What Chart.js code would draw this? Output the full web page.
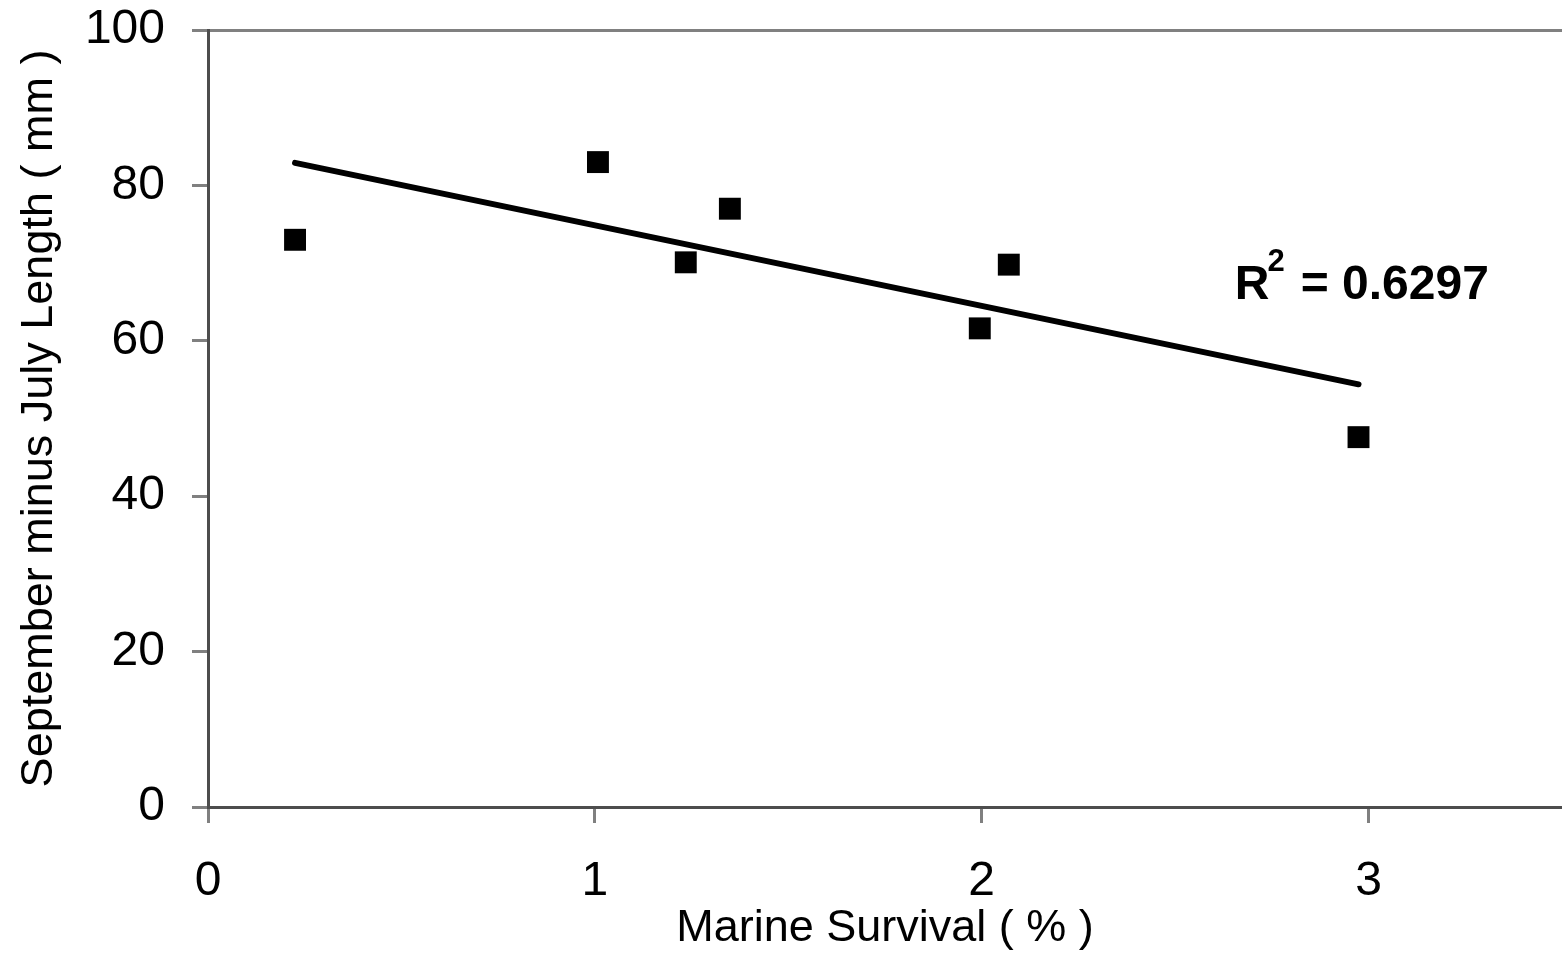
<!DOCTYPE html>
<html>
<head>
<meta charset="utf-8">
<script src="https://cdn.jsdelivr.net/npm/chart.js@4.4.0/dist/chart.umd.min.js"></script>
<style>
  html, body { margin: 0; padding: 0; background: #fff; overflow: hidden; }
  #wrap { width: 1562px; height: 956px; position: relative; }
  canvas { display: block; }
</style>
</head>
<body>
<div id="wrap"><canvas id="chart"></canvas></div>
<script>
// values
const survival = [0.225, 1.008, 1.235, 1.349, 1.995, 2.07, 2.974];
const lengthDiff = [73.0, 83.0, 70.1, 77.0, 61.6, 69.8, 47.6];
const trendX = [0.225, 2.974];
const trendY = [82.9, 54.4];
const xTicks = [0, 1, 2, 3];
const yTicks = [0, 20, 40, 60, 80, 100];
const r2Text = "0.6297";

const FONT = "'Liberation Sans', Arial, sans-serif";

// R² label next to the end of the trend line
const r2Label = {
  id: "r2Label",
  afterDatasetsDraw(chart) {
    const ctx = chart.ctx;
    const x = chart.scales.x.getPixelForValue(2.654);
    const y = chart.scales.y.getPixelForValue(65.4);
    ctx.save();
    ctx.fillStyle = "#000";
    ctx.textBaseline = "alphabetic";
    ctx.font = "bold 48px " + FONT;
    ctx.fillText("R", x, y);
    const w = ctx.measureText("R").width;
    ctx.font = "bold 31px " + FONT;
    ctx.fillText("2", x + w - 2, y - 28);
    ctx.font = "bold 48px " + FONT;
    ctx.fillText(" = " + r2Text, x + w + 18, y);
    ctx.restore();
  }
};

new Chart(document.getElementById("chart"), {
  type: "scatter",
  data: {
    datasets: [
      {
        data: survival.map((v, i) => ({ x: v, y: lengthDiff[i] })),
        pointStyle: "rect",
        pointRadius: 15.5,
        backgroundColor: "#000",
        borderColor: "#000",
        borderWidth: 0
      },
      {
        type: "line",
        data: trendX.map((v, i) => ({ x: v, y: trendY[i] })),
        borderColor: "#000",
        borderWidth: 6,
        borderCapStyle: "round",
        pointRadius: 0,
        fill: false
      }
    ]
  },
  options: {
    responsive: true,
    maintainAspectRatio: false,
    animation: false,
    layout: { autoPadding: false, padding: { top: 30, right: 0, left: 0, bottom: 0 } },
    plugins: { legend: { display: false }, tooltip: { enabled: false } },
    scales: {
      x: {
        type: "linear",
        min: 0,
        max: 3.5,
        afterBuildTicks: axis => { axis.ticks = xTicks.map(v => ({ value: v })); },
        afterFit: axis => {
          axis.height = 149;
          axis.paddingLeft = 0;
          axis.paddingRight = 0;
        },
        border: { color: "#4d4d4d", width: 3 },
        grid: { drawOnChartArea: false, tickLength: 16, tickColor: "#808080", tickWidth: 3 },
        ticks: { color: "#000", font: { family: FONT, size: 48 }, padding: 30, maxRotation: 0 },
        title: {
          display: true,
          text: "Marine Survival ( % )",
          color: "#000",
          font: { family: FONT, size: 45 },
          padding: { top: 0, bottom: 0 }
        }
      },
      y: {
        min: 0,
        max: 100,
        afterBuildTicks: axis => { axis.ticks = yTicks.map(v => ({ value: v })); },
        afterFit: axis => {
          axis.width = 208;
          axis.paddingTop = 0;
          axis.paddingBottom = 0;
        },
        border: { color: "#4d4d4d", width: 3 },
        grid: {
          color: c => (c.tick && c.tick.value === 100 ? "#808080" : "rgba(0,0,0,0)"),
          lineWidth: 3,
          tickLength: 16,
          tickColor: "#808080",
          tickWidth: 3
        },
        ticks: { color: "#000", font: { family: FONT, size: 48 }, padding: 27 },
        title: {
          display: true,
          text: "September minus July Length ( mm )",
          color: "#000",
          font: { family: FONT, size: 45 },
          padding: { top: 13, bottom: 0 }
        }
      }
    }
  },
  plugins: [r2Label]
});
</script>
</body>
</html>
